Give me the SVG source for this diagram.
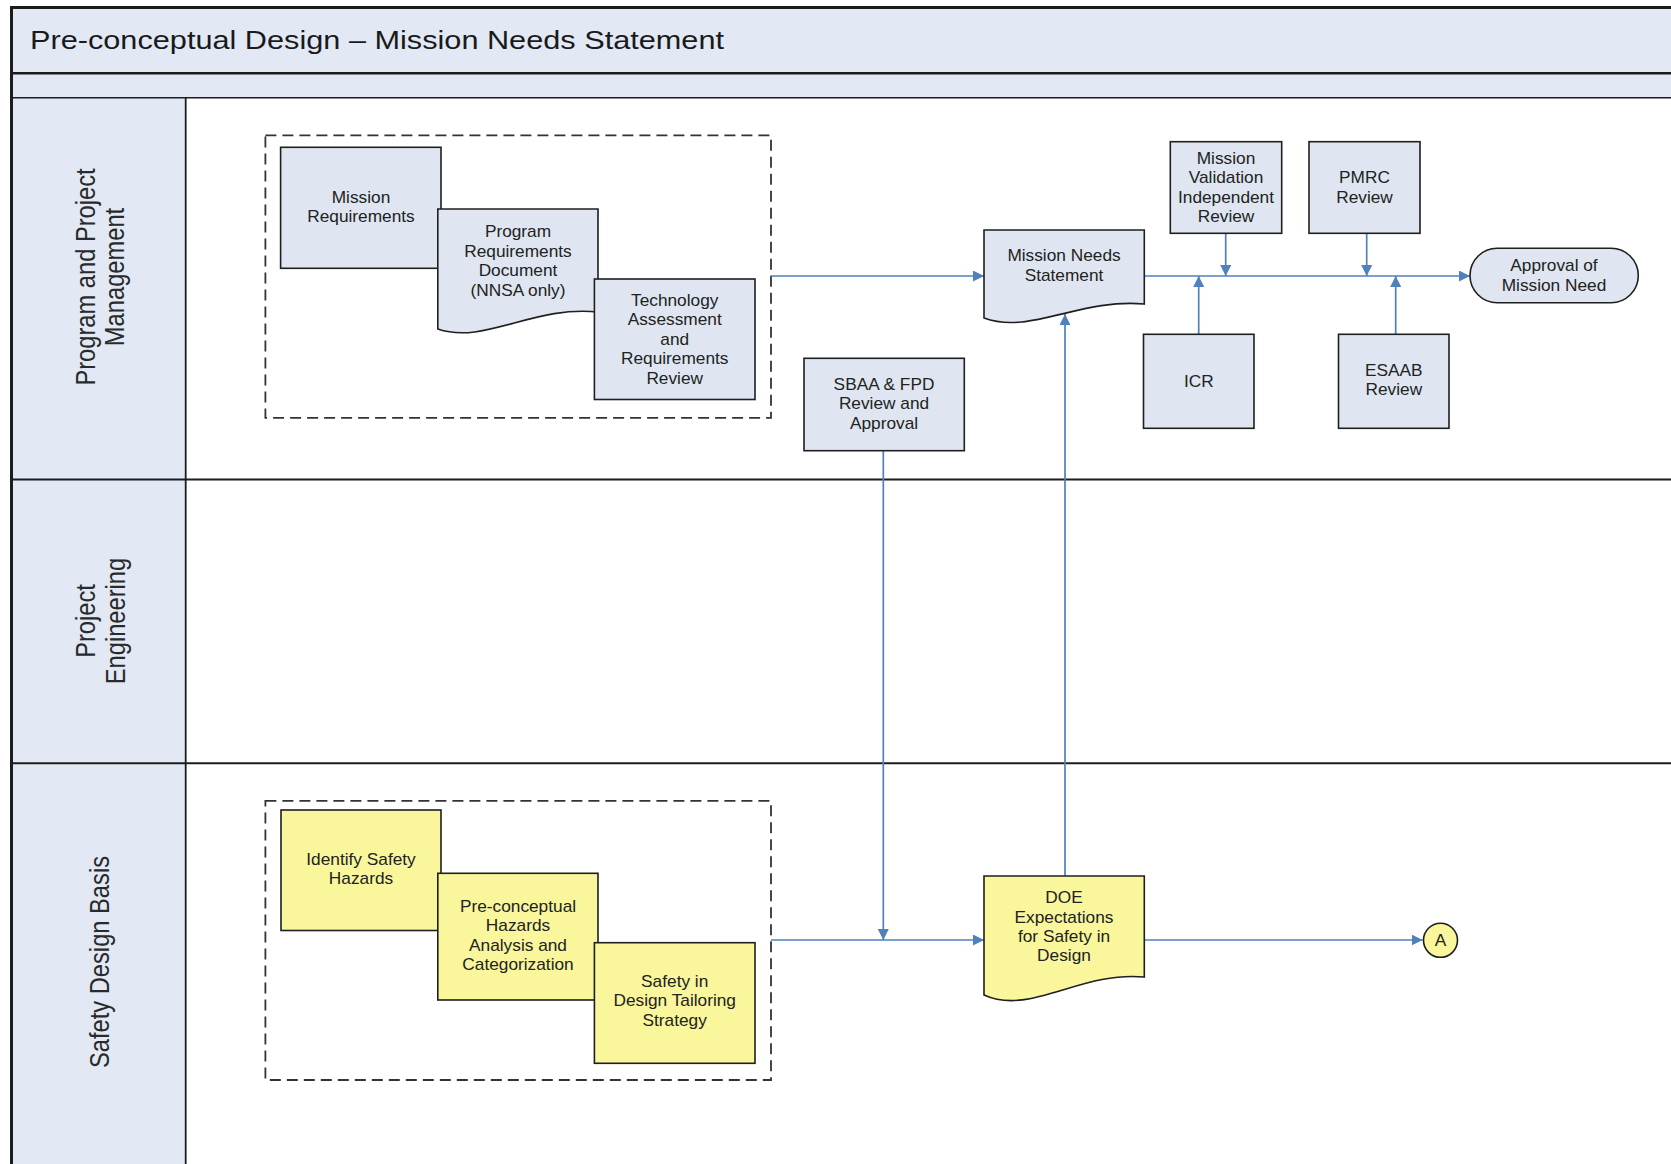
<svg xmlns="http://www.w3.org/2000/svg" width="1671" height="1164" viewBox="0 0 1671 1164">
  <style>
    .band{fill:#e2e9f5}
    .rule{stroke:#1c1c1c;fill:none}
    .box{fill:#dfe6f1;stroke:#1f1f1f;stroke-width:1.6}
    .ybox{fill:#f9f69c;stroke:#1f1f1f;stroke-width:1.6}
    .group{fill:none;stroke:#333;stroke-width:1.8;stroke-dasharray:11 6}
    .flow{fill:none;stroke:#4f81bd;stroke-width:1.7;marker-end:url(#arrow)}
    .t{font-family:"Liberation Sans",Arial,Helvetica,sans-serif;font-size:16px;fill:#222;text-anchor:middle}
    .lane{font-family:"Liberation Sans",Arial,Helvetica,sans-serif;font-size:23.7px;fill:#2a2a2a;text-anchor:middle}
    .title{font-family:"Liberation Sans",Arial,Helvetica,sans-serif;font-size:26px;fill:#1a1a1a}
  </style>
  <defs>
    <marker id="arrow" markerUnits="userSpaceOnUse" viewBox="0 0 10 10" refX="10" refY="5" markerWidth="11" markerHeight="11" orient="auto">
      <path d="M0,0 L10,5 L0,10 Z" fill="#4f81bd"/>
    </marker>
  </defs>

  <rect width="1671" height="1164" fill="#ffffff"/>

  <!-- swimlane frame -->
  <g id="frame">
    <rect class="band" x="11.5" y="7.5" width="1670" height="90"/>
    <rect class="band" x="11.5" y="97.7" width="174.2" height="1080"/>
    <line class="rule" x1="11.5" y1="73.3" x2="1671" y2="73.3" stroke-width="2.5"/>
    <line class="rule" x1="11.5" y1="97.7" x2="1671" y2="97.7" stroke-width="1.5"/>
    <line class="rule" x1="185.7" y1="97.7" x2="185.7" y2="1164" stroke-width="1.8"/>
    <line class="rule" x1="11.5" y1="479.5" x2="1671" y2="479.5" stroke-width="2"/>
    <line class="rule" x1="11.5" y1="763.3" x2="1671" y2="763.3" stroke-width="2"/>
    <path class="rule" d="M11.5,1170 V7.5 H1680" stroke-width="3"/>
    <text class="title" x="30" y="49" textLength="694" lengthAdjust="spacingAndGlyphs">Pre-conceptual Design – Mission Needs Statement</text>
  </g>

  <g id="lane-ppm">
    <text class="lane" transform="translate(100 277) scale(1.17 1) rotate(-90)"><tspan x="0" y="-4.5">Program and Project</tspan><tspan x="0" y="20.5">Management</tspan></text>
  </g>
  <g id="lane-pe">
    <text class="lane" transform="translate(100 621) scale(1.17 1) rotate(-90)"><tspan x="0" y="-4.5">Project</tspan><tspan x="0" y="21">Engineering</tspan></text>
  </g>
  <g id="lane-sdb">
    <text class="lane" transform="translate(109 962) scale(1.17 1) rotate(-90)"><tspan x="0" y="0">Safety Design Basis</tspan></text>
  </g>

  <!-- dashed groupings -->
  <rect id="group-requirements" class="group" x="265.4" y="135.3" width="505.6" height="282.5"/>
  <rect id="group-safety" class="group" x="265.4" y="800.8" width="505.6" height="279.2"/>

  <!-- connectors -->
  <g id="connectors">
    <path class="flow" d="M771,276 H984"/>
    <path class="flow" d="M1144.3,276 H1470"/>
    <path class="flow" d="M1225.7,233.3 V276"/>
    <path class="flow" d="M1198.7,334.3 V276"/>
    <path class="flow" d="M1366.7,233.3 V276"/>
    <path class="flow" d="M1395.7,334.3 V276"/>
    <path class="flow" d="M771,940 H984"/>
    <path class="flow" d="M883.3,450.7 V940"/>
    <path class="flow" d="M1065,876 V314"/>
    <path class="flow" d="M1144.3,940 H1422.7"/>
  </g>

  <!-- nodes -->
  <g id="mission-requirements">
    <rect class="box" x="280.6" y="147.3" width="160.4" height="121"/>
    <text class="t" transform="translate(361 0) scale(1.08 1)"><tspan x="0" y="203">Mission</tspan><tspan x="0" y="222.5">Requirements</tspan></text>
  </g>
  <g id="program-requirements-document">
    <path class="box" d="M437.8,209 H598 V312 C534,305 484,345 437.8,329 Z"/>
    <text class="t" transform="translate(518 0) scale(1.08 1)"><tspan x="0" y="237.5">Program</tspan><tspan x="0" y="257">Requirements</tspan><tspan x="0" y="276.5">Document</tspan><tspan x="0" y="296">(NNSA only)</tspan></text>
  </g>
  <g id="technology-assessment">
    <rect class="box" x="594.4" y="279" width="160.6" height="120.5"/>
    <text class="t" transform="translate(674.7 0) scale(1.08 1)"><tspan x="0" y="306">Technology</tspan><tspan x="0" y="325.5">Assessment</tspan><tspan x="0" y="345">and</tspan><tspan x="0" y="364.5">Requirements</tspan><tspan x="0" y="384">Review</tspan></text>
  </g>
  <g id="mission-needs-statement">
    <path class="box" d="M984,230 H1144.3 V304 C1080,298 1030,335 984,318 Z"/>
    <text class="t" transform="translate(1064 0) scale(1.08 1)"><tspan x="0" y="261.5">Mission Needs</tspan><tspan x="0" y="281">Statement</tspan></text>
  </g>
  <g id="mission-validation-review">
    <rect class="box" x="1170.3" y="141.7" width="111.4" height="91.6"/>
    <text class="t" transform="translate(1226 0) scale(1.08 1)"><tspan x="0" y="164">Mission</tspan><tspan x="0" y="183.5">Validation</tspan><tspan x="0" y="203">Independent</tspan><tspan x="0" y="222.5">Review</tspan></text>
  </g>
  <g id="pmrc-review">
    <rect class="box" x="1309" y="141.7" width="111" height="91.6"/>
    <text class="t" transform="translate(1364.5 0) scale(1.08 1)"><tspan x="0" y="183.5">PMRC</tspan><tspan x="0" y="203">Review</tspan></text>
  </g>
  <g id="approval-of-mission-need">
    <rect class="box" x="1470" y="248.3" width="168.3" height="54.4" rx="27.2" ry="27.2"/>
    <text class="t" transform="translate(1554 0) scale(1.08 1)"><tspan x="0" y="271.5">Approval of</tspan><tspan x="0" y="291">Mission Need</tspan></text>
  </g>
  <g id="icr">
    <rect class="box" x="1143.5" y="334.3" width="110.5" height="94"/>
    <text class="t" transform="translate(1198.8 0) scale(1.08 1)"><tspan x="0" y="387">ICR</tspan></text>
  </g>
  <g id="esaab-review">
    <rect class="box" x="1338.5" y="334.3" width="110.5" height="94"/>
    <text class="t" transform="translate(1393.8 0) scale(1.08 1)"><tspan x="0" y="376">ESAAB</tspan><tspan x="0" y="395.5">Review</tspan></text>
  </g>
  <g id="sbaa-fpd-review">
    <rect class="box" x="804" y="358.3" width="160.3" height="92.4"/>
    <text class="t" transform="translate(884 0) scale(1.08 1)"><tspan x="0" y="390">SBAA &amp; FPD</tspan><tspan x="0" y="409.5">Review and</tspan><tspan x="0" y="429">Approval</tspan></text>
  </g>

  <g id="identify-safety-hazards">
    <rect class="ybox" x="281" y="810" width="160" height="120.5"/>
    <text class="t" transform="translate(361 0) scale(1.08 1)"><tspan x="0" y="865">Identify Safety</tspan><tspan x="0" y="884.5">Hazards</tspan></text>
  </g>
  <g id="preconceptual-hazards-analysis">
    <rect class="ybox" x="437.8" y="873.3" width="160.2" height="126.7"/>
    <text class="t" transform="translate(518 0) scale(1.08 1)"><tspan x="0" y="912">Pre-conceptual</tspan><tspan x="0" y="931.5">Hazards</tspan><tspan x="0" y="951">Analysis and</tspan><tspan x="0" y="970.5">Categorization</tspan></text>
  </g>
  <g id="safety-in-design-tailoring">
    <rect class="ybox" x="594.4" y="942.7" width="160.6" height="120.6"/>
    <text class="t" transform="translate(674.7 0) scale(1.08 1)"><tspan x="0" y="987">Safety in</tspan><tspan x="0" y="1006.5">Design Tailoring</tspan><tspan x="0" y="1026">Strategy</tspan></text>
  </g>
  <g id="doe-expectations">
    <path class="ybox" d="M984,876 H1144.3 V977 C1080,971 1030,1016 984,995 Z"/>
    <text class="t" transform="translate(1064 0) scale(1.08 1)"><tspan x="0" y="902.7">DOE</tspan><tspan x="0" y="922.5">Expectations</tspan><tspan x="0" y="942">for Safety in</tspan><tspan x="0" y="961.5">Design</tspan></text>
  </g>
  <g id="connector-a">
    <circle class="ybox" cx="1440.5" cy="940.3" r="17"/>
    <text class="t" transform="translate(1440.5 0) scale(1.08 1)"><tspan x="0" y="946">A</tspan></text>
  </g>
</svg>
